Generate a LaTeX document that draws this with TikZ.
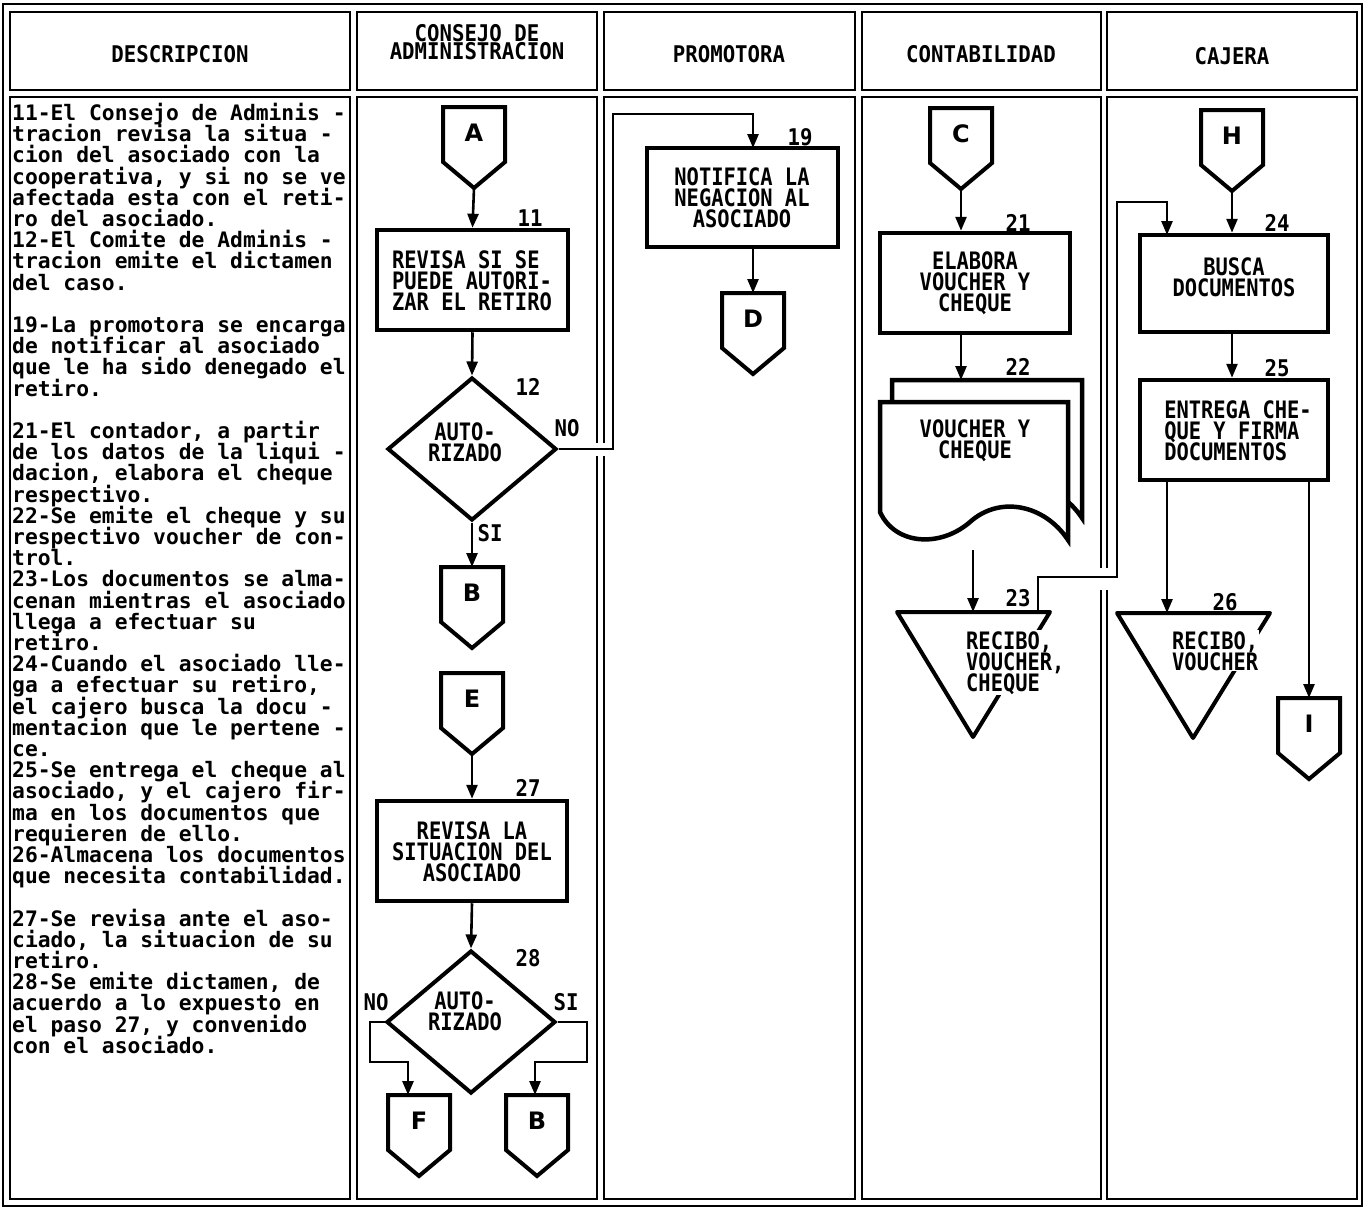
\documentclass[tikz,border=0pt]{standalone}
\usepackage{fontspec}
\usetikzlibrary{arrows.meta,shapes.geometric}
\newfontfamily\descfont{DejaVu Sans Mono}
\newfontfamily\capsfont{DejaVu Sans Mono}[FakeStretch=0.9]
\newfontfamily\boxfont{DejaVu Sans Mono}[FakeStretch=0.85]
\newfontfamily\letterfont{DejaVu Sans}
% fixed line pitch, whatever the glyph heights
\newcommand\tightlines{\lineskiplimit -30pt\lineskip 0pt\relax}

% off-page connector: name, centre x, top y, letter
\newcommand\offpage[4]{%
  \draw[conn] (#2-31,#3) -- (#2+31,#3) -- (#2+31,#3+55) -- (#2,#3+81) -- (#2-31,#3+55) -- cycle;
  \node[letter] (#1) at (#2,#3+26) {#4};
  \coordinate (#1-in) at (#2,#3);
  \coordinate (#1-out) at (#2,#3+81);
}

\begin{document}
\begin{tikzpicture}[x=1pt,y=-1pt,
  cell/.style={draw=black,line width=1.8pt},
  frame/.style={draw=black,line width=1.8pt},
  procbox/.style={draw=black,line width=4.5pt,fill=white,inner sep=0pt},
  conn/.style={draw=black,line width=4pt,line join=miter,fill=white},
  decision/.style={diamond,draw=black,line width=4pt,fill=white,inner sep=0pt,
    minimum width=169pt,minimum height=143pt},
  tri/.style={draw=black,line width=4pt,fill=white,line join=round},
  docsheet/.style={draw=black,line width=4.5pt,fill=white},
  flow/.style={draw=black,line width=2.6pt},
  arr/.style={flow,-{Triangle[length=14pt,width=11pt]}},
  head/.style={font=\capsfont\bfseries\fontsize{23}{18}\selectfont\tightlines,
    align=center,inner sep=0pt},
  boxtext/.style={font=\boxfont\bfseries\fontsize{24}{21}\selectfont\tightlines,
    align=center,inner sep=0pt},
  num/.style={font=\capsfont\bfseries\fontsize{23}{20}\selectfont,inner sep=0pt},
  letter/.style={font=\letterfont\bfseries\fontsize{24}{24}\selectfont,inner sep=0pt},
  desc/.style={font=\descfont\bfseries\fontsize{21.3}{21.2}\selectfont\tightlines,
    align=left,inner sep=0pt,anchor=north west},
]
\useasboundingbox (0,0) rectangle (1365,1215);
\fill[white] (0,0) rectangle (1365,1215);

% table: outer frame, header cells and body cells
\draw[frame] (3,4) rectangle (1362,1206);
\foreach \l/\r in {10/350,357/597,604/855,862/1101,1107/1357} {
  \draw[cell] (\l,12) rectangle (\r,90);
  \draw[cell] (\l,97) rectangle (\r,1199);
}
% gaps in the column borders where connectors cross
\fill[white] (593,443) rectangle (608,456);
\fill[white] (1097,568) rectangle (1111,590);

% headers
\node[head] (hdesc) at (180,54) {DESCRIPCION};
\node[head] (hcons) at (477,42) {CONSEJO DE\\ADMINISTRACION};
\node[head] (hprom) at (729,54) {PROMOTORA};
\node[head] (hcont) at (981,54) {CONTABILIDAD};
\node[head] (hcaj) at (1232,56) {CAJERA};

% description column
\node[desc] (desc) at (12,103) {11-El Consejo de Adminis -\\
tracion revisa la situa -\\
cion del asociado con la\\
cooperativa, y si no se ve\\
afectada esta con el reti-\\
ro del asociado.\\
12-El Comite de Adminis -\\
tracion emite el dictamen\\
del caso.\\[21.2pt]
19-La promotora se encarga\\
de notificar al asociado\\
que le ha sido denegado el\\
retiro.\\[21.2pt]
21-El contador, a partir\\
de los datos de la liqui -\\
dacion, elabora el cheque\\
respectivo.\\
22-Se emite el cheque y su\\
respectivo voucher de con-\\
trol.\\
23-Los documentos se alma-\\
cenan mientras el asociado\\
llega a efectuar su\\
retiro.\\
24-Cuando el asociado lle-\\
ga a efectuar su retiro,\\
el cajero busca la docu -\\
mentacion que le pertene -\\
ce.\\
25-Se entrega el cheque al\\
asociado, y el cajero fir-\\
ma en los documentos que\\
requieren de ello.\\
26-Almacena los documentos\\
que necesita contabilidad.\\[21.2pt]
27-Se revisa ante el aso-\\
ciado, la situacion de su\\
retiro.\\
28-Se emite dictamen, de\\
acuerdo a lo expuesto en\\
el paso 27, y convenido\\
con el asociado.};

% ---- Consejo de Administracion ----
\offpage{A}{474}{107}{A}
\node[procbox,minimum width=191pt,minimum height=100pt] (b11) at (472.5,280) {};
\node[boxtext,align=left] (t11) at (472,281) {REVISA SI SE\\PUEDE AUTORI-\\ZAR EL RETIRO};
\node[num] (n11) at (530,218) {11};
\node[decision] (d12) at (472,449) {};
\node[boxtext] (t12) at (465,442) {AUTO-\\RIZADO};
\node[num] (n12) at (528,387) {12};
\node[num] (no12) at (567,428) {NO};
\node[num] (si12) at (490,533) {SI};
\offpage{B1}{472}{567}{B}
\offpage{E}{472}{673}{E}
\node[procbox,minimum width=190pt,minimum height=100pt] (b27) at (472,851) {};
\node[boxtext] (t27) at (472,852) {REVISA LA\\SITUACION DEL\\ASOCIADO};
\node[num] (n27) at (528,788) {27};
\node[decision] (d28) at (471,1022) {};
\node[boxtext] (t28) at (465,1011) {AUTO-\\RIZADO};
\node[num] (n28) at (528,958) {28};
\node[num] (no28) at (376,1002) {NO};
\node[num] (si28) at (566,1002) {SI};
\offpage{F}{419}{1095}{F}
\offpage{B2}{537}{1095}{B}
\coordinate (F-arr) at (408,1095);
\coordinate (B2-arr) at (535,1095);
\coordinate (f28a) at (370,1062);
\coordinate (s28a) at (587,1062);

% ---- Promotora ----
\node[procbox,minimum width=191pt,minimum height=99pt] (b19) at (742.5,197.5) {};
\node[boxtext] (t19) at (742,198) {NOTIFICA LA\\NEGACION AL\\ASOCIADO};
\node[num] (n19) at (800,137) {19};
\coordinate (in19) at (753,148);
\coordinate (no12a) at (613,114);
\offpage{D}{753}{293}{D}

% ---- Contabilidad ----
\offpage{C}{961}{108}{C}
\node[procbox,minimum width=190pt,minimum height=100pt] (b21) at (975,283) {};
\node[boxtext] (t21) at (975,283) {ELABORA\\VOUCHER Y\\CHEQUE};
\node[num] (n21) at (1018,223) {21};
% document stack
\draw[docsheet] (892,380) -- (1082,380) -- (1082,518)
  .. controls (1059,483) and (1014,473) .. (984,500)
  .. controls (954,526) and (909,523) .. (892,490) -- cycle;
\draw[docsheet] (880,402) -- (1068,402) -- (1068,540)
  .. controls (1045,505) and (1000,495) .. (970,522)
  .. controls (940,548) and (895,545) .. (880,512) -- cycle;
\node[boxtext] (t22) at (975,441) {VOUCHER Y\\CHEQUE};
\node[num] (n22) at (1018,367) {22};
\coordinate (doc22in) at (961,380);
\coordinate (doc22out) at (973,550);
% file 23
\draw[tri] (897,612) -- (1050,612) -- (973,737) -- cycle;
\coordinate (t23top) at (973,612);
\coordinate (t23c) at (1038,612);
\node[boxtext,align=left,anchor=north west,fill=white,inner sep=1pt] (t23) at (965,630) {RECIBO,\\VOUCHER,\\CHEQUE};
\node[num] (n23) at (1018,598) {23};
\coordinate (k1) at (1117,577);
\coordinate (k2) at (1167,202);

% ---- Cajera ----
\offpage{H}{1232}{110}{H}
\node[procbox,minimum width=188pt,minimum height=97pt] (b24) at (1234,283.5) {};
\node[boxtext] (t24) at (1234,277) {BUSCA\\DOCUMENTOS};
\node[num] (n24) at (1277,223) {24};
\coordinate (in24) at (1167,235);
\node[procbox,minimum width=188pt,minimum height=100pt] (b25) at (1234,430) {};
\node[boxtext,align=left] (t25) at (1238,431) {ENTREGA CHE-\\QUE Y FIRMA\\DOCUMENTOS};
\node[num] (n25) at (1277,368) {25};
\draw[tri] (1117,613) -- (1270,613) -- (1193,738) -- cycle;
\coordinate (t26top) at (1167,613);
\node[boxtext,align=left,anchor=north west,fill=white,inner sep=1pt] (t26) at (1171,630) {RECIBO,\\VOUCHER};
\node[num] (n26) at (1225,602) {26};
\offpage{I}{1309}{698}{I}

% ---- connectors ----
\draw[arr] (A-out) -- (b11.north);
\draw[arr] (b11.south) -- (d12.north);
\draw[arr] (d12.east) -| (no12a) -| (in19);
\draw[arr] (d12.south) -- (B1-in);
\draw[arr] (E-out) -- (b27.north);
\draw[arr] (b27.south) -- (d28.north);
\draw[arr] (d28.west) -| (f28a) -| (F-arr);
\draw[arr] (d28.east) -| (s28a) -| (B2-arr);
\draw[arr] (b19.south -| D-in) -- (D-in);
\draw[arr] (C-out) -- (C-out |- b21.north);
\draw[arr] (b21.south -| doc22in) -- (doc22in);
\draw[arr] (doc22out) -- (t23top);
\draw[arr] (t23c) |- (k1) |- (k2) -- (in24);
\draw[arr] (H-out) -- (H-out |- b24.north);
\draw[arr] (b24.south -| H-out) -- (H-out |- b25.north);
\draw[arr] (b25.south -| t26top) -- (t26top);
\draw[arr] (b25.south -| I-in) -- (I-in);
\end{tikzpicture}
\end{document}
